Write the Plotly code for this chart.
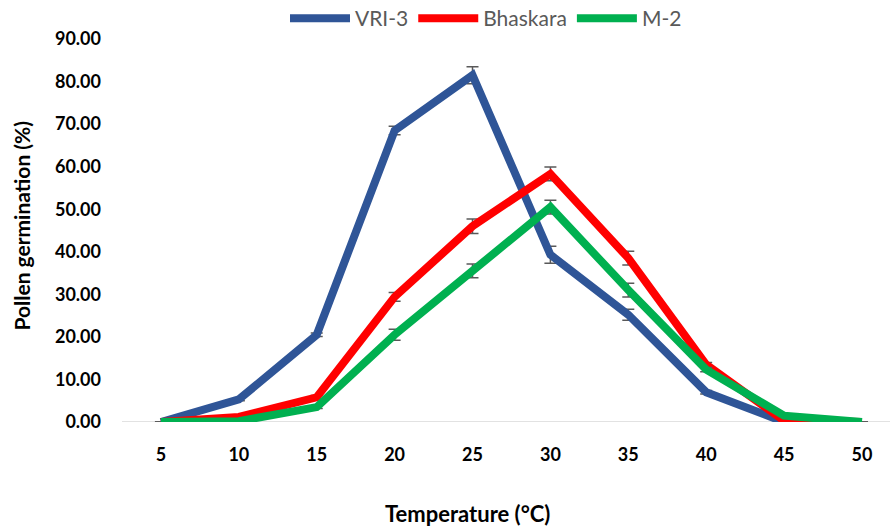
import plotly.graph_objects as go

temps = [5, 10, 15, 20, 25, 30, 35, 40, 45, 50]
vri3 = [0.0, 5.3, 20.5, 68.5, 81.5, 39.3, 25.2, 7.0, 0.0, 0.0]
vri3_err = [0.0, 0.3, 0.4, 1.0, 2.0, 2.0, 1.3, 0.4, 0.0, 0.0]
bhaskara = [0.0, 1.2, 5.8, 29.4, 46.0, 58.3, 38.5, 13.5, 0.3, 0.0]
bhaskara_err = [0.0, 0.2, 0.4, 1.0, 1.7, 1.6, 1.6, 0.5, 0.1, 0.0]
m2 = [0.0, 0.2, 3.5, 20.5, 35.5, 50.5, 31.0, 12.3, 1.5, 0.0]
m2_err = [0.0, 0.1, 0.3, 1.3, 1.6, 1.6, 1.6, 0.5, 0.2, 0.0]
yticks = [0, 10, 20, 30, 40, 50, 60, 70, 80, 90]

series = [("VRI-3", vri3, vri3_err, "#2F5597"),
          ("Bhaskara", bhaskara, bhaskara_err, "#FF0000"),
          ("M-2", m2, m2_err, "#00B050")]

fig = go.Figure()
for name, vals, err, col in series:
    fig.add_trace(go.Scatter(
        x=temps, y=vals, name=name, mode="lines",
        line=dict(color=col, width=8),
        error_y=dict(type="data", array=err, color="#595959", thickness=1.5, width=6),
    ))

font = "Lato, 'Open Sans', Arial, sans-serif"
fig.update_layout(
    width=890, height=528,
    margin=dict(l=122, r=0, t=32, b=106),
    plot_bgcolor="white", paper_bgcolor="white",
    font=dict(family=font, color="black"),
    showlegend=True,
    legend=dict(orientation="h", x=486 / 890, xanchor="center", y=0.965, yanchor="middle",
                yref="container", xref="container",
                font=dict(size=21, color="#595959"), itemwidth=60, traceorder="normal"),
    xaxis=dict(range=[2.5, 51.8], tickvals=temps, ticktext=[str(t) for t in temps],
               showgrid=False, zeroline=False, showline=False, automargin=False,
               tickfont=dict(size=18, family=font, color="black", weight="bold"),
               ticks="", ticklabelstandoff=20),
    yaxis=dict(range=[0, 90], tickvals=yticks, ticktext=[f"{v:.2f}" for v in yticks],
               showgrid=False, zeroline=False, showline=False, ticks="", automargin=False,
               tickfont=dict(size=18, family=font, color="black", weight="bold"),
               ticklabelstandoff=20),
    shapes=[dict(type="line", xref="paper", yref="y", x0=0.0, x1=1.0, y0=0, y1=0,
                 line=dict(color="#D9D9D9", width=1.5), layer="below")],
    annotations=[
        dict(text="<b>Temperature (°C)</b>", xref="paper", yref="paper",
             x=(467 - 122) / 768, y=-93 / 390, xanchor="center", yanchor="middle",
             showarrow=False, font=dict(size=22, color="black")),
        dict(text="<b>Pollen germination (%)</b>", xref="paper", yref="paper",
             x=-100 / 768, y=(422 - 222) / 390, xanchor="center", yanchor="middle",
             textangle=-90, showarrow=False, font=dict(size=21, color="black")),
    ],
)

fig.write_html("out.html", config={"displayModeBar": False},
               post_script="document.body.style.margin='0';")
